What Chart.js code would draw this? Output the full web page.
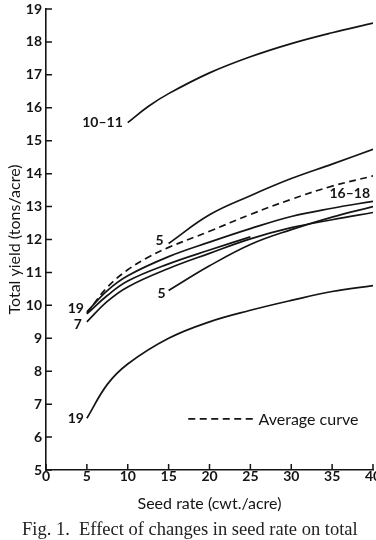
<!DOCTYPE html>
<html>
<head>
<meta charset="utf-8">
<script src="https://cdn.jsdelivr.net/npm/chart.js@4.4.1/dist/chart.umd.min.js"></script>
<style>
  html, body { margin: 0; padding: 0; background: #fff; overflow: hidden; }
  #wrap { position: relative; width: 384px; height: 540px; }
  #caption {
    position: absolute; left: 22px; top: 519px;
    font: 18.5px 'Liberation Serif', serif; color: #222; white-space: nowrap;
  }
</style>
</head>
<body>
<div id="wrap">
  <canvas id="chart" width="384" height="520"></canvas>
  <div id="caption">Fig. 1.&nbsp; Effect of changes in seed rate on total</div>
</div>
<script>
// seed rate (cwt./acre) where each curve was read
const ratesFrom5 = [5, 7.5, 10, 15, 20, 25, 30, 35, 40]
const ratesFrom10 = [10, 12.5, 15, 20, 25, 30, 35, 40]
const ratesFrom15 = [15, 20, 25, 30, 35, 40]
const ratesTo25 = [5, 7.5, 10, 15, 20, 25]
const ratesAverage = [5, 7.5, 10, 12.5, 15, 20, 25, 30, 35, 40]

// total yield (tons/acre)
const yield1011 = [15.55, 16.04, 16.43, 17.06, 17.55, 17.95, 18.28, 18.57]
const yield5High = [11.88, 12.75, 13.33, 13.85, 14.29, 14.74]
const yieldAverage = [9.76, 10.55, 11.08, 11.46, 11.76, 12.25, 12.76, 13.22, 13.62, 13.93]
const yield1618 = [9.8, 10.45, 10.9, 11.48, 11.92, 12.33, 12.7, 12.95, 13.16]
const yield19High = [9.74, 10.3, 10.74, 11.26, 11.68, 12.08]
const yield7 = [9.5, 10.12, 10.56, 11.12, 11.58, 12.02, 12.36, 12.6, 12.82]
const yield5Low = [10.45, 11.2, 11.85, 12.3, 12.68, 13.0]
const yield19Low = [6.57, 7.6, 8.22, 9.0, 9.5, 9.85, 10.15, 10.42, 10.6]

const curveNames = ['10–11', '5', 'Average curve', '16–18', '19', '7', '5', '19']

const ink = '#141414'
const sans = 'Lato, "Open Sans", sans-serif'

function pts (xs, ys) {
  return xs.map((x, i) => ({ x, y: ys[i] }))
}

function curve (label, data, dashed) {
  return {
    label,
    data,
    showLine: true,
    borderColor: ink,
    borderWidth: 1.7,
    borderDash: dashed ? [7, 4.5] : [],
    pointRadius: 0,
    tension: 0.4,
    fill: false
  }
}

// where the curve name sits relative to the first (or last) point of its curve
const labelPlaces = [
  { dx: -5, dy: 0 },
  { dx: -5, dy: -3 },
  null,
  { end: true, dx: -3, dy: -8 },
  { dx: -3, dy: -5 },
  { dx: -5, dy: 3 },
  { dx: -3, dy: 3 },
  { dx: -3, dy: 0 }
]

const curveLabels = {
  id: 'curveLabels',
  afterDatasetsDraw (chart) {
    const { ctx, scales: { x, y } } = chart
    ctx.save()
    ctx.fillStyle = ink
    ctx.textBaseline = 'middle'
    ctx.textAlign = 'right'
    ctx.font = 'bold 14px ' + sans
    chart.data.datasets.forEach((ds, i) => {
      const place = labelPlaces[i]
      if (!place) return
      const pointsDrawn = chart.getDatasetMeta(i).data
      const pt = place.end ? pointsDrawn[pointsDrawn.length - 1] : pointsDrawn[0]
      ctx.fillText(ds.label, pt.x + place.dx, pt.y + place.dy)
    })

    // key for the dashed curve
    const ky = y.getPixelForValue(6.55)
    ctx.strokeStyle = ink
    ctx.lineWidth = 1.7
    ctx.setLineDash([7, 4.5])
    ctx.beginPath()
    ctx.moveTo(x.getPixelForValue(17.4), ky)
    ctx.lineTo(x.getPixelForValue(25.3), ky)
    ctx.stroke()
    ctx.setLineDash([])
    ctx.textAlign = 'left'
    ctx.font = '16px ' + sans
    ctx.fillText(curveNames[2], x.getPixelForValue(26), ky + 1)
    ctx.restore()
  }
}

// tick marks point into the plot
const inwardTicks = {
  id: 'inwardTicks',
  afterDraw (chart) {
    const { ctx, chartArea, scales: { x, y } } = chart
    ctx.save()
    ctx.strokeStyle = ink
    ctx.lineWidth = 1.5
    ctx.beginPath()
    y.ticks.forEach((t) => {
      const py = y.getPixelForValue(t.value)
      ctx.moveTo(chartArea.left, py)
      ctx.lineTo(chartArea.left + 6, py)
    })
    x.ticks.forEach((t) => {
      const px = x.getPixelForValue(t.value)
      ctx.moveTo(px, chartArea.bottom)
      ctx.lineTo(px, chartArea.bottom - 6)
    })
    ctx.stroke()
    ctx.restore()
  }
}

new Chart(document.getElementById('chart'), {
  type: 'scatter',
  data: {
    datasets: [
      curve(curveNames[0], pts(ratesFrom10, yield1011)),
      curve(curveNames[1], pts(ratesFrom15, yield5High)),
      curve(curveNames[2], pts(ratesAverage, yieldAverage), true),
      curve(curveNames[3], pts(ratesFrom5, yield1618)),
      curve(curveNames[4], pts(ratesTo25, yield19High)),
      curve(curveNames[5], pts(ratesFrom5, yield7)),
      curve(curveNames[6], pts(ratesFrom15, yield5Low)),
      curve(curveNames[7], pts(ratesFrom5, yield19Low))
    ]
  },
  options: {
    responsive: false,
    animation: false,
    layout: {
      padding: { top: 9, right: 11, bottom: 7, left: 0 }
    },
    plugins: {
      legend: { display: false },
      tooltip: { enabled: false }
    },
    scales: {
      x: {
        type: 'linear',
        min: 0,
        max: 40,
        grid: { display: false, drawTicks: false },
        border: { display: true, color: ink, width: 1.6 },
        ticks: {
          stepSize: 5,
          color: ink,
          padding: -2,
          maxRotation: 0,
          font: { family: sans, size: 14, weight: 'bold' }
        },
        title: {
          display: true,
          text: 'Seed rate (cwt./acre)',
          color: ink,
          padding: { top: 0, bottom: 0 },
          font: { family: sans, size: 16 }
        },
        afterFit (scale) {
          scale.height = 43
        }
      },
      y: {
        type: 'linear',
        min: 5,
        max: 19,
        grid: { display: false, drawTicks: false },
        border: { display: true, color: ink, width: 1.6 },
        ticks: {
          stepSize: 1,
          color: ink,
          padding: 4,
          font: { family: sans, size: 14, weight: 'bold' }
        },
        title: {
          display: true,
          text: 'Total yield (tons/acre)',
          color: ink,
          padding: { top: 5, bottom: 0 },
          font: { family: sans, size: 16 }
        },
        afterFit (scale) {
          scale.width = 46
          scale.paddingTop = 0
          scale.paddingBottom = 0
        }
      }
    }
  },
  plugins: [curveLabels, inwardTicks]
})
</script>
</body>
</html>
